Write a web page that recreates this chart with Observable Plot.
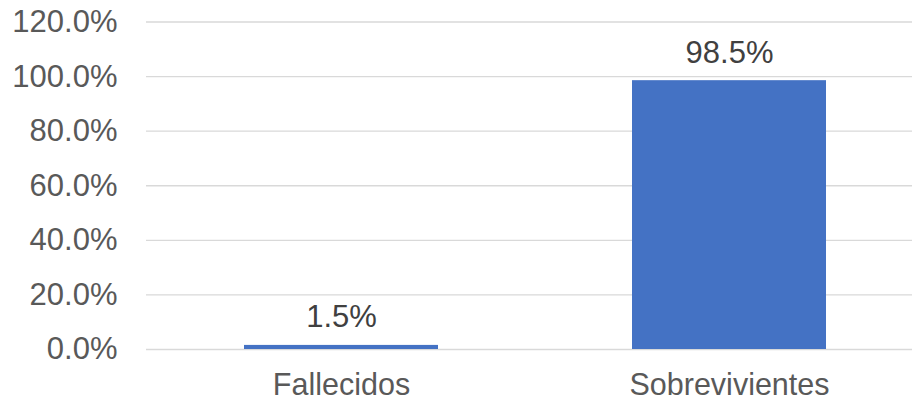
<!DOCTYPE html>
<html>
<head>
<meta charset="utf-8">
<script src="https://cdn.jsdelivr.net/npm/d3@7"></script>
<script src="https://cdn.jsdelivr.net/npm/@observablehq/plot@0.6"></script>
<style>
  html, body { margin: 0; padding: 0; background: #fff; }
  #chart svg { font-family: "Liberation Sans", Arial, sans-serif; }
</style>
</head>
<body>
<div id="chart"></div>
<script>
// Share of patients by outcome
const categories = ["Fallecidos", "Sobrevivientes"];
const shares = [1.5, 98.5];
const yTicks = [0, 20, 40, 60, 80, 100, 120];

const rows = categories.map((c, i) => ({ category: c, share: shares[i] }));
const pct = d => d.toFixed(1) + "%";

const chart = Plot.plot({
  width: 912,
  height: 402,
  marginLeft: 146,
  marginRight: 0,
  marginTop: 21.5,
  marginBottom: 53,
  style: { fontSize: "31px", fontFamily: "Liberation Sans, Arial, sans-serif", background: "#fff" },
  x: {
    domain: categories,
    range: [146, 923],
    paddingInner: 0.5,
    paddingOuter: 0.25,
    label: null
  },
  y: { domain: [0, 120], label: null },
  marks: [
    Plot.ruleY(yTicks, { stroke: "#d9d9d9", strokeWidth: 1.4 }),
    Plot.barY(rows, { x: "category", y: "share", fill: "#4472C4" }),
    Plot.text(rows, {
      x: "category",
      y: "share",
      text: d => pct(d.share),
      lineAnchor: "bottom",
      dy: -18,
      fill: "#404040",
      fontSize: 31
    }),
    Plot.axisY(yTicks, {
      tickSize: 0,
      tickPadding: 29,
      tickFormat: pct,
      fill: "#595959",
      fontSize: 31,
      label: null
    }),
    Plot.axisX({
      tickSize: 0,
      tickPadding: 24,
      fill: "#595959",
      fontSize: 30.5,
      label: null
    })
  ]
});

document.getElementById("chart").append(chart);
</script>
</body>
</html>
